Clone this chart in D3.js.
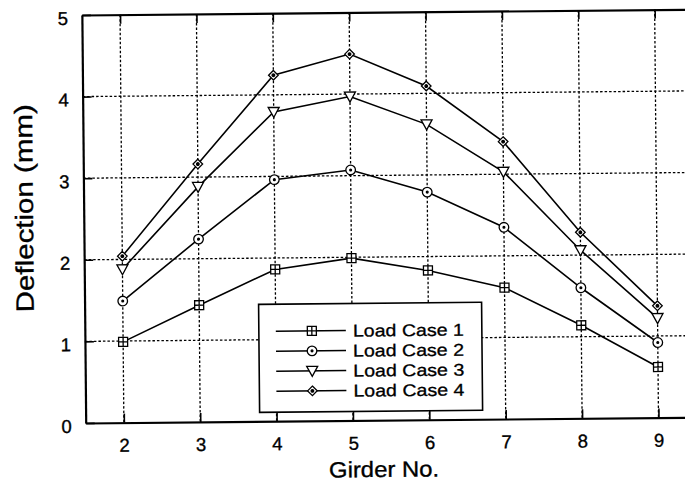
<!DOCTYPE html>
<html>
<head>
<meta charset="utf-8">
<script src="https://cdn.jsdelivr.net/npm/d3@7/dist/d3.min.js"></script>
<style>
  body { margin: 0; background: #fff; }
  svg { display: block; }
  text { font-family: "Liberation Sans", Arial, Helvetica, sans-serif; fill: #000; }
</style>
</head>
<body>
<div class="wrapper"></div>
<script>
// girder numbers and deflections (mm)
const girders = [2, 3, 4, 5, 6, 7, 8, 9];
const loadCase1 = [0.99, 1.43, 1.86, 1.99, 1.83, 1.61, 1.14, 0.62];
const loadCase2 = [1.49, 2.24, 2.96, 3.07, 2.79, 2.35, 1.60, 0.92];
const loadCase3 = [1.88, 2.88, 3.79, 3.97, 3.62, 3.03, 2.06, 1.22];
const loadCase4 = [2.04, 3.16, 4.24, 4.49, 4.09, 3.40, 2.28, 1.37];
const seriesNames = ["Load Case 1", "Load Case 2", "Load Case 3", "Load Case 4"];
const markerKinds = ["squareCross", "circleDot", "triangleDown", "diamond"];
const yTicks = [0, 1, 2, 3, 4, 5];

const width = 685, height = 487;
const margin = {top: 12.3, left: 83.8};
const plotW = 611, plotH = 408;   // plot runs past the right edge like the scan

const series = [loadCase1, loadCase2, loadCase3, loadCase4].map((vals, i) => ({
    name: seriesNames[i],
    kind: markerKinds[i],
    points: girders.map((g, j) => ({x: g, y: vals[j]}))
}));

const x = d3.scaleLinear().domain([1.5, 9.5]).range([0, plotW]);
const y = d3.scaleLinear().domain([0, 5]).range([plotH, 0]);

const svg = d3.select(".wrapper").append("svg")
    .attr("width", width)
    .attr("height", height);

// the scanned page is tilted a little
const page = svg.append("g")
    .attr("transform", "rotate(-0.54, 370, 220)");

const g = page.append("g")
    .attr("transform", "translate(" + margin.left + "," + margin.top + ")");

// dotted grid
g.append("g").selectAll("line")
    .data(girders)
    .join("line")
    .attr("x1", d => x(d)).attr("x2", d => x(d))
    .attr("y1", 0).attr("y2", plotH)
    .attr("stroke", "#000").attr("stroke-width", 1.3)
    .attr("stroke-dasharray", "2.5,2");

g.append("g").selectAll("line")
    .data(yTicks.slice(1, -1))
    .join("line")
    .attr("x1", 0).attr("x2", plotW)
    .attr("y1", d => y(d)).attr("y2", d => y(d))
    .attr("stroke", "#000").attr("stroke-width", 1.3)
    .attr("stroke-dasharray", "2.5,2");

// axes with inward ticks
const xAxisBottom = d3.axisBottom(x).tickValues(girders).tickFormat(d3.format("d"))
    .tickSizeInner(-9).tickSizeOuter(0).tickPadding(16);
const xAxisTop = d3.axisTop(x).tickValues(girders).tickSizeInner(-9).tickSizeOuter(0).tickFormat("");
const yAxisLeft = d3.axisLeft(y).tickValues(yTicks).tickFormat(d3.format("d"))
    .tickSizeInner(-9).tickSizeOuter(0).tickPadding(14);

const gx = g.append("g").attr("transform", "translate(0," + plotH + ")").call(xAxisBottom);
const gt = g.append("g").call(xAxisTop);
const gy = g.append("g").call(yAxisLeft);

[gx, gt, gy].forEach(a => {
    a.attr("font-family", null);
    a.select(".domain").attr("stroke", "#000").attr("stroke-width", 2.2);
    a.selectAll(".tick line").attr("stroke", "#000").attr("stroke-width", 1.6);
    a.selectAll(".tick text")
        .style("font-size", "18.5px")
        .attr("stroke", "#000").attr("stroke-width", 0.35);
});
gy.selectAll(".tick text").attr("dy", "0.5em");

// right frame edge (mostly cut off)
g.append("line")
    .attr("x1", plotW).attr("x2", plotW)
    .attr("y1", 0).attr("y2", plotH)
    .attr("stroke", "#000").attr("stroke-width", 2.2);

// lines
const line = d3.line().x(d => x(d.x)).y(d => y(d.y));

g.append("g").selectAll("path")
    .data(series)
    .join("path")
    .attr("d", d => line(d.points))
    .attr("fill", "none")
    .attr("stroke", "#000")
    .attr("stroke-width", 1.6);

function drawMarker(sel, kind) {
    sel.attr("fill", "#fff").attr("stroke", "#000").attr("stroke-width", 1.3);
    if (kind === "squareCross") {
        sel.append("rect").attr("x", -4.5).attr("y", -4.5).attr("width", 9).attr("height", 9);
        sel.append("path").attr("d", "M-4.5,0H4.5M0,-4.5V4.5");
    } else if (kind === "circleDot") {
        sel.append("circle").attr("r", 4.8);
        sel.append("circle").attr("r", 0.9).attr("fill", "#000");
    } else if (kind === "triangleDown") {
        sel.append("path").attr("d", "M-5.5,-4.5H5.5L0,5.5Z");
    } else {
        sel.append("path").attr("d", "M0,-4.8L4.8,0L0,4.8L-4.8,0Z");
        sel.append("circle").attr("r", 1.3).attr("fill", "#000");
    }
}

series.forEach(s => {
    g.append("g").selectAll("g")
        .data(s.points)
        .join("g")
        .attr("transform", d => "translate(" + x(d.x) + "," + y(d.y) + ")")
        .each(function () { drawMarker(d3.select(this), s.kind); });
});

// legend
const legend = g.append("g").attr("transform", "translate(174,291)");
legend.append("rect")
    .attr("width", 223).attr("height", 108)
    .attr("fill", "#fff").attr("stroke", "#000").attr("stroke-width", 1.6);

const rows = legend.selectAll("g.row")
    .data(series)
    .join("g")
    .attr("class", "row")
    .attr("transform", (d, i) => "translate(0," + (27 + i * 20) + ")");

rows.append("line")
    .attr("x1", 17).attr("x2", 87)
    .attr("stroke", "#000").attr("stroke-width", 1.6);
rows.append("g")
    .attr("transform", "translate(53,0)")
    .each(function (d) { drawMarker(d3.select(this), d.kind); });
rows.append("text")
    .attr("x", 94).attr("dy", "0.36em")
    .style("font-size", "17px")
    .attr("textLength", 111)
    .attr("lengthAdjust", "spacingAndGlyphs")
    .attr("stroke", "#000").attr("stroke-width", 0.3)
    .text(d => d.name);

// axis titles
page.append("text")
    .attr("x", margin.left + x(5.4))
    .attr("y", 477)
    .attr("text-anchor", "middle")
    .style("font-size", "22px")
    .attr("textLength", 110)
    .attr("lengthAdjust", "spacingAndGlyphs")
    .attr("stroke", "#000").attr("stroke-width", 0.35)
    .text("Girder No.");

page.append("text")
    .attr("transform", "translate(33,205) rotate(-90)")
    .attr("text-anchor", "middle")
    .style("font-size", "25px")
    .attr("textLength", 208)
    .attr("lengthAdjust", "spacingAndGlyphs")
    .attr("stroke", "#000").attr("stroke-width", 0.35)
    .text("Deflection (mm)");
</script>
</body>
</html>
